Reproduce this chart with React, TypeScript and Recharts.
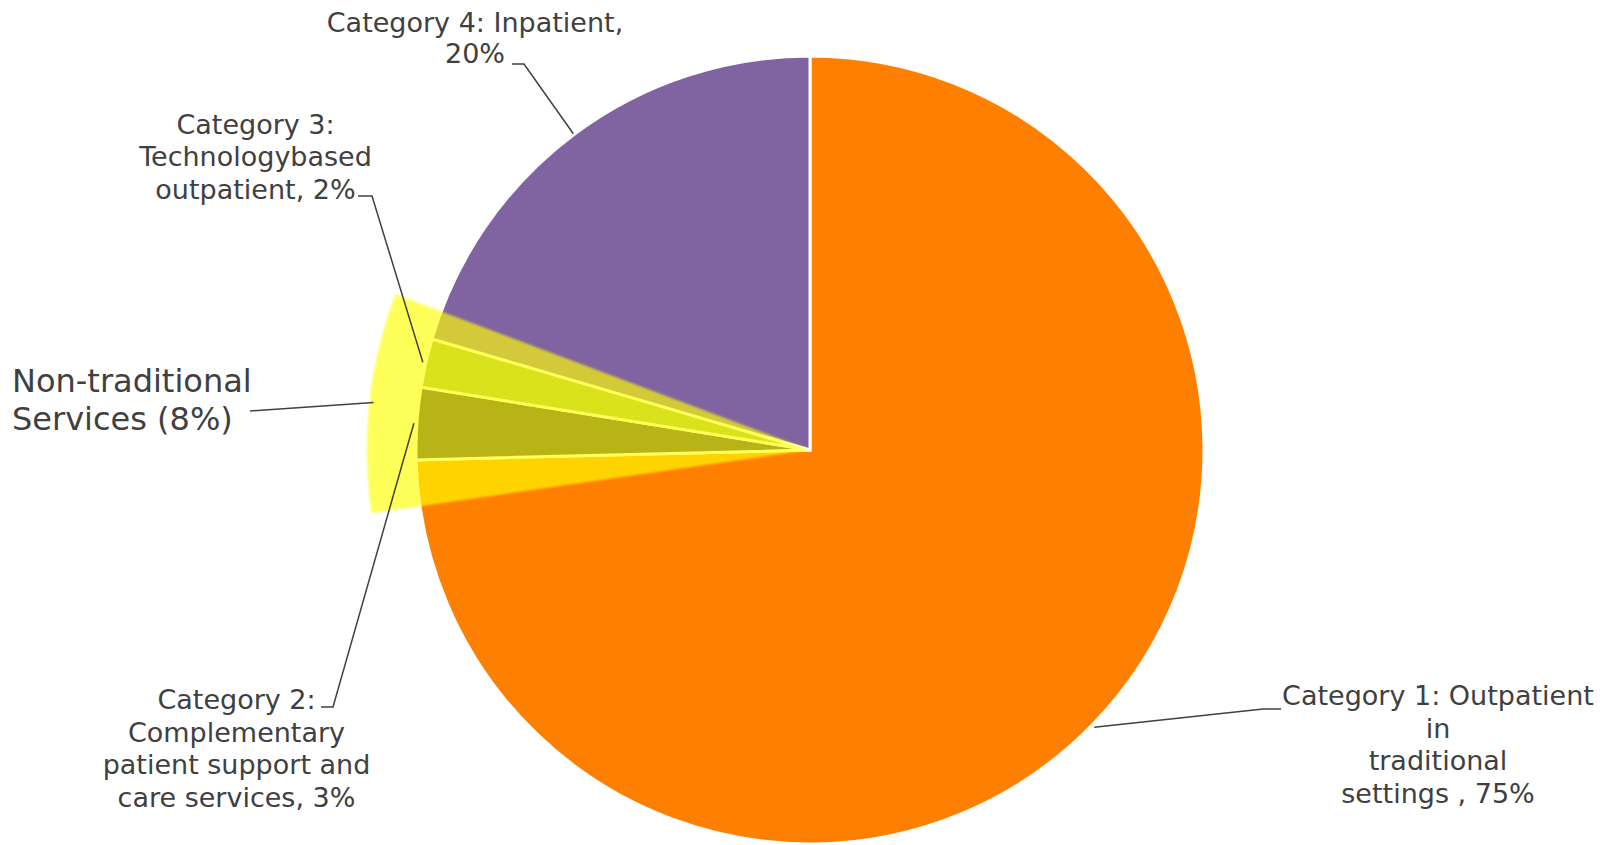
import { PieChart, Pie, Cell } from "recharts";

// shares of spending per category
const categories = ["Category 1", "Category 2", "Category 3", "Category 4"];
const shares = [74.6, 2.95, 2.0, 20.45];
const sliceColors = ["#ff8000", "#342945", "#92ac4a", "#8064a2"];
const labelLines = [
  ["Category 1: Outpatient", "in", "traditional", "settings , {p}%"],
  ["Category 2:", "Complementary", "patient support and", "care services, {p}%"],
  ["Category 3:", "Technologybased", "outpatient, {p}%"],
  ["Category 4: Inpatient,", "{p}%"],
];

// highlighted group drawn over the pie
const groupNames = ["Non-traditional Services", "rest"];
const groupShares = [8, 92];
const groupLines = [["Non-traditional", "Services ({p}%)"]];

const RAD = Math.PI / 180;
const FONT = "'DejaVu Sans', Verdana, sans-serif";
const TEXT = "#404040";

type LabelLayout = {
  x: number;
  y: number;
  lineH: number;
  size: number;
  anchor: "start" | "middle" | "end";
  tick: [number, number, number];
  gap: number;
};

const sliceLabelLayout: LabelLayout[] = [
  { x: 1438, y: 696, lineH: 32.5, size: 27, anchor: "middle", tick: [1281, 1263, 709], gap: 3 },
  { x: 236.5, y: 700, lineH: 32.5, size: 27, anchor: "middle", tick: [321, 333, 707], gap: 3 },
  { x: 255.5, y: 124.5, lineH: 32.5, size: 27, anchor: "middle", tick: [358, 372, 196], gap: 3 },
  { x: 475, y: 23, lineH: 31, size: 27, anchor: "middle", tick: [512, 524, 64], gap: 1 },
];

const groupLabelLayout: LabelLayout[] = [
  { x: 12, y: 381, lineH: 38, size: 32, anchor: "start", tick: [250, 250, 411], gap: -4 },
];

function makeLabel(lines: string[][], values: number[], layout: LabelLayout[]) {
  return (props: any) => {
    const { cx, cy, midAngle, outerRadius, index } = props;
    if (index >= lines.length) return null;
    const L = layout[index];
    const r = outerRadius + L.gap;
    const px = cx + r * Math.cos(-midAngle * RAD);
    const py = cy + r * Math.sin(-midAngle * RAD);
    const pct = Math.round(values[index]);
    return (
      <g key={`lbl-${index}`}>
        <polyline
          points={`${L.tick[0]},${L.tick[2]} ${L.tick[1]},${L.tick[2]} ${px},${py}`}
          fill="none"
          stroke={TEXT}
          strokeWidth={1.5}
        />
        <text textAnchor={L.anchor} fontFamily={FONT} fontSize={L.size} fill={TEXT}>
          {lines[index].map((ln, i) => (
            <tspan key={i} x={L.x} y={L.y + i * L.lineH + L.size * 0.35}>
              {ln.replace("{p}", String(pct))}
            </tspan>
          ))}
        </text>
      </g>
    );
  };
}

export default function App() {
  const sliceData = categories.map((name, i) => ({ name, value: shares[i] }));
  const groupData = groupNames.map((name, i) => ({ name, value: groupShares[i] }));

  return (
    <div style={{ position: "absolute", left: 0, top: 0, width: 1612, height: 845, background: "#fff" }}>
      <svg width={0} height={0} style={{ position: "absolute" }}>
        <defs>
          <filter id="soft" x="-10%" y="-10%" width="120%" height="120%">
            <feGaussianBlur stdDeviation={1.3} />
          </filter>
        </defs>
      </svg>
      <PieChart width={1612} height={845} margin={{ top: 0, right: 0, bottom: 0, left: 0 }}>
        <Pie
          data={sliceData}
          dataKey="value"
          cx={810}
          cy={450}
          outerRadius={394}
          startAngle={90}
          endAngle={-270}
          stroke="#ffffff"
          strokeWidth={3}
          labelLine={false}
          label={makeLabel(labelLines, shares, sliceLabelLayout)}
          isAnimationActive={false}
        >
          {sliceData.map((entry, index) => (
            <Cell key={`cell-${index}`} fill={sliceColors[index]} />
          ))}
        </Pie>
        <Pie
          data={groupData}
          dataKey="value"
          cx={810}
          cy={450}
          outerRadius={443}
          startAngle={-171.8}
          endAngle={-531.8}
          stroke="none"
          labelLine={false}
          label={makeLabel(groupLines, groupShares, groupLabelLayout)}
          isAnimationActive={false}
        >
          {groupData.map((entry, index) =>
            index === 0 ? (
              <Cell key={`g-${index}`} fill="#ffff00" fillOpacity={0.65} filter="url(#soft)" />
            ) : (
              <Cell key={`g-${index}`} fill="none" />
            )
          )}
        </Pie>
      </PieChart>
    </div>
  );
}
